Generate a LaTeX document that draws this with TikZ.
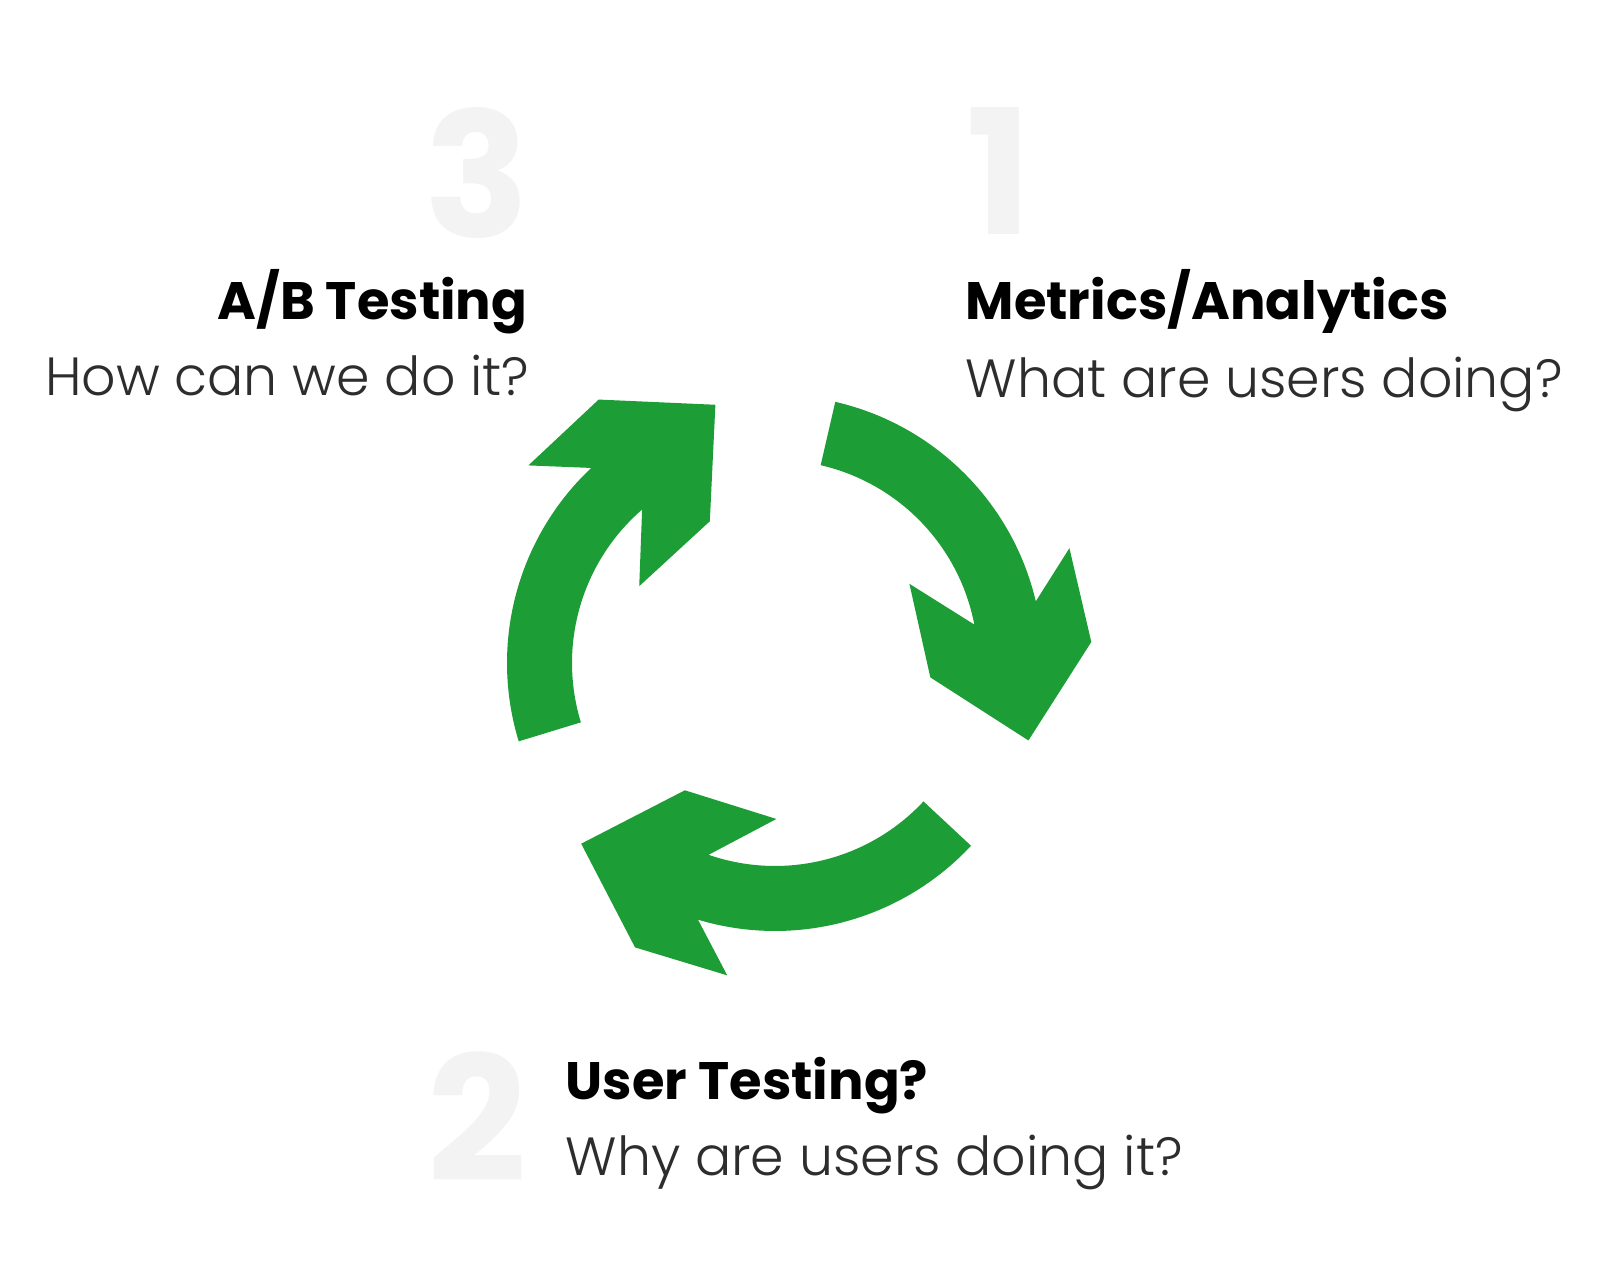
\documentclass[tikz,border=0pt]{standalone}
\usepackage{fontspec}
\setmainfont{Poppins}
\IfFontExistsTF{Poppins Light}
  {\newfontfamily\subfont{Poppins Light}}
  {\newfontfamily\subfont{Poppins}}
\usepackage{tikz}

\definecolor{cyclegreen}{RGB}{28,157,54}
\definecolor{numgray}{RGB}{243,243,243}
\definecolor{subgray}{RGB}{45,45,45}

\begin{document}
\begin{tikzpicture}[
      num/.style={inner sep=0pt, text=numgray,
                  font=\fontsize{49.5}{50}\selectfont\bfseries},
      title/.style={inner sep=0pt, text=black,
                    font=\fontsize{15}{18}\selectfont\bfseries},
      sub/.style={inner sep=0pt, text=subgray,
                  font=\fontsize{15.3}{18}\selectfont\subfont},
      cyclearrow/.style={fill=cyclegreen}
    ]
    \useasboundingbox (0,0) rectangle (16,12.8);
    \fill[white] (0,0) rectangle (16,12.8);

    % --- Big step numbers -----------------------------------------------------
    \node[num, anchor=base east] (n3) at (5.30,10.42) {3};
    \node[num, anchor=base west] (n1) at (9.66,10.45) {1};
    \node[num, anchor=base east] (n2) at (5.28,0.98)  {2};

    % --- Step labels ------------------------------------------------------------
    \node[title, anchor=base east] (abtest) at (5.28,9.60) {A/B Testing};
    \node[sub,   anchor=base east] (abq)    at (5.30,8.84) {How can we do it?};

    \node[title, anchor=base west] (metrics) at (9.65,9.60) {Metrics/Analytics};
    \node[sub,   anchor=base west] (metq)    at (9.65,8.82) {What are users doing?};

    \node[title, anchor=base west] (usertest) at (5.65,1.80) {User Testing?};
    \node[sub,   anchor=base west] (userq)    at (5.65,1.04) {Why are users doing it?};

    % --- Cycle of three curved arrows (clockwise) -------------------------------
    \coordinate (cyc) at (7.75,6.17);
    \foreach \t in {77,197,317}{
      \begin{scope}[shift={(cyc)}, rotate=\t]
        \fill[cyclearrow] (0:2.68) arc[start angle=0, end angle=-63.7, radius=2.68]
          -- (-55.7:3.16) -- (-73.2:3.17) -- (-94:2.65) -- (-82.3:1.56)
          -- (-46.5:1.56) -- (-66.1:2.03)
          arc[start angle=-66.1, end angle=0, radius=2.03] -- cycle;
      \end{scope}
    }
  \end{tikzpicture}
\end{document}
